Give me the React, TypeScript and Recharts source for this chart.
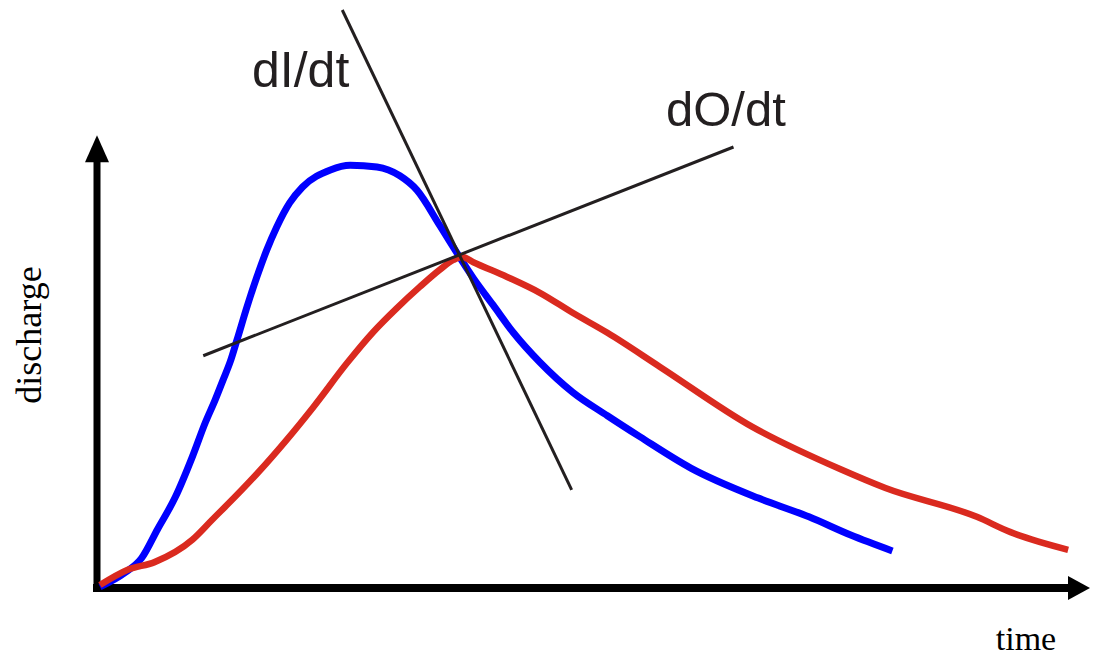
import React from "react";
import { LineChart, Line, XAxis, YAxis, ReferenceLine } from "recharts";

// time (arbitrary units) and discharge (arbitrary units)
const inflowTime = [0.3, 2.8, 4.5, 6.1, 7.9, 9.6, 10.9, 11.9, 12.7, 13.4, 14.1, 15.1, 16.1, 17.1, 18.1, 19.4, 20.7, 23.5, 25.5, 28.2, 30.5, 32.2, 34.5, 35.5, 37.9, 39.9, 41.9, 44.6, 47.9, 51.4, 54.7, 59.8, 66.6, 71.7, 75.9, 80.1];
const inflowQ = [0.2, 2.6, 5.1, 10.0, 15.5, 22.3, 28.1, 32.0, 35.4, 38.4, 42.2, 47.8, 52.9, 57.5, 61.4, 65.5, 68.2, 71.1, 71.9, 71.6, 70.1, 67.7, 61.7, 59.0, 52.7, 48.1, 43.5, 38.4, 33.3, 29.3, 25.7, 20.4, 15.3, 12.1, 9.0, 6.3];

const outflowTime = [0.3, 3.1, 5.8, 9.6, 11.6, 13.9, 16.2, 19.1, 21.8, 25.2, 27.8, 30.2, 32.5, 34.5, 35.9, 36.8, 37.9, 41.3, 44.6, 47.9, 51.4, 56.7, 66.0, 75.0, 79.4, 88.6, 92.0, 97.8];
const outflowQ = [0.5, 3.1, 4.4, 8.2, 11.6, 15.5, 19.6, 25.2, 30.8, 38.3, 43.5, 47.6, 51.2, 54.1, 55.8, 56.3, 55.4, 52.9, 50.2, 46.8, 43.4, 37.6, 27.4, 20.1, 17.0, 12.1, 9.5, 6.5];

// tangent segments [t, Q]
const dIdtSegment = [[24.7, 98.3], [47.8, 16.7]];
const dOdtSegment = [[10.7, 39.5], [64.1, 75.0]];

const timeAxisEnd = 100;
const dischargeAxisEnd = 77;

const inflowData = inflowTime.map((t, i) => ({ t, q: inflowQ[i] }));
const outflowData = outflowTime.map((t, i) => ({ t, q: outflowQ[i] }));

const makeArrow = (width: number, headLen: number, headHalf: number, startExt: number) => (props: any) => {
  const { x1, y1, x2, y2 } = props;
  const dx = x2 - x1;
  const dy = y2 - y1;
  const len = Math.sqrt(dx * dx + dy * dy) || 1;
  const ux = dx / len;
  const uy = dy / len;
  const bx = x2 - ux * headLen;
  const by = y2 - uy * headLen;
  const px = -uy;
  const py = ux;
  return (
    <g>
      <line
        x1={x1 - ux * startExt}
        y1={y1 - uy * startExt}
        x2={bx + ux * 1}
        y2={by + uy * 1}
        stroke="#000"
        strokeWidth={width}
      />
      <polygon
        points={`${x2},${y2} ${bx + px * headHalf},${by + py * headHalf} ${bx - px * headHalf},${by - py * headHalf}`}
        fill="#000"
      />
    </g>
  );
};

const yArrow = makeArrow(7, 27, 12, 4);
const xArrow = makeArrow(8, 22, 12, 4);

export default function App() {
  return (
    <div style={{ position: "absolute", left: 0, top: 0, width: 1099, height: 656, background: "#fff" }}>
      <LineChart width={1099} height={656} margin={{ top: 0, right: 9, bottom: 68, left: 97 }}>
        <XAxis type="number" dataKey="t" domain={[0, 100]} hide />
        <YAxis type="number" dataKey="q" domain={[0, 100]} hide />
        <ReferenceLine
          segment={[{ x: 0, y: 0 }, { x: 0, y: dischargeAxisEnd }]}
          shape={yArrow}
          ifOverflow="visible"
        />
        <ReferenceLine
          segment={[{ x: 0, y: 0 }, { x: timeAxisEnd, y: 0 }]}
          shape={xArrow}
          ifOverflow="visible"
        />
        <Line
          data={inflowData}
          dataKey="q"
          type="monotone"
          stroke="#0000ff"
          strokeWidth={7}
          dot={false}
          activeDot={false}
          isAnimationActive={false}
        />
        <Line
          data={outflowData}
          dataKey="q"
          type="monotone"
          stroke="#da2a1f"
          strokeWidth={6.5}
          dot={false}
          activeDot={false}
          isAnimationActive={false}
        />
        <ReferenceLine
          segment={[{ x: dIdtSegment[0][0], y: dIdtSegment[0][1] }, { x: dIdtSegment[1][0], y: dIdtSegment[1][1] }]}
          stroke="#231f20"
          strokeWidth={3}
          ifOverflow="visible"
        />
        <ReferenceLine
          segment={[{ x: dOdtSegment[0][0], y: dOdtSegment[0][1] }, { x: dOdtSegment[1][0], y: dOdtSegment[1][1] }]}
          stroke="#231f20"
          strokeWidth={3}
          ifOverflow="visible"
        />
        <text x={252} y={87} fontFamily="'Liberation Sans', Arial, sans-serif" fontSize={50} fill="#231f20">
          dI/dt
        </text>
        <text x={666} y={126} fontFamily="'Liberation Sans', Arial, sans-serif" fontSize={49} fill="#231f20">
          dO/dt
        </text>
        <text
          x={41}
          y={335}
          textAnchor="middle"
          transform="rotate(-90, 41, 335)"
          fontFamily="'Liberation Serif', 'Times New Roman', serif"
          fontSize={36}
          fill="#000"
        >
          discharge
        </text>
        <text
          x={1026}
          y={650}
          textAnchor="middle"
          fontFamily="'Liberation Serif', 'Times New Roman', serif"
          fontSize={34}
          fill="#000"
        >
          time
        </text>
      </LineChart>
    </div>
  );
}
